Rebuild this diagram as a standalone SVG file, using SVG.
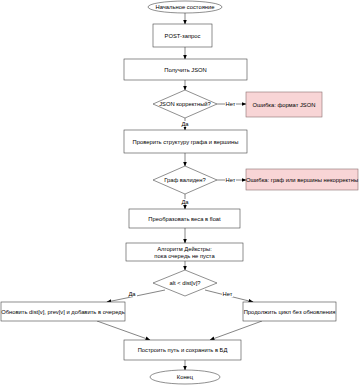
<svg xmlns="http://www.w3.org/2000/svg" width="359" height="385" viewBox="0 0 359 385">
<style>
.n{fill:#fff;stroke:#444;stroke-width:0.6}
.e{fill:#f8d5d6;stroke:#8a7070;stroke-width:0.6}
.c{fill:none;stroke:#333;stroke-width:0.6;marker-end:url(#a)}
text{font-family:"Liberation Sans",Arial,sans-serif;font-size:5.8px;fill:#000;text-anchor:middle;dominant-baseline:central}
.lb{fill:#fff}
</style>
<defs>
<marker id="a" viewBox="0 0 10 10" refX="9" refY="5" markerWidth="5" markerHeight="5" orient="auto" markerUnits="userSpaceOnUse">
<path d="M0,1 L10,5 L0,9 z" fill="#000"/>
</marker>
</defs>
<rect width="359" height="385" fill="#fff"/>
<g id="connectors">
<line class="c" x1="185" y1="13" x2="185" y2="24"/>
<line class="c" x1="185" y1="47" x2="185" y2="59"/>
<line class="c" x1="185" y1="80" x2="185" y2="90"/>
<line class="c" x1="217" y1="104" x2="246" y2="104"/>
<line class="c" x1="185" y1="118" x2="185" y2="130"/>
<line class="c" x1="185" y1="153" x2="185" y2="166"/>
<line class="c" x1="217" y1="180" x2="246" y2="180"/>
<line class="c" x1="185" y1="194" x2="185" y2="209"/>
<line class="c" x1="185" y1="228" x2="185" y2="243"/>
<line class="c" x1="185" y1="261" x2="185" y2="270"/>
<line class="c" x1="165" y1="290" x2="107" y2="302"/>
<line class="c" x1="205" y1="290" x2="253" y2="302"/>
<line class="c" x1="97" y1="321" x2="150" y2="340"/>
<line class="c" x1="262" y1="321" x2="210" y2="340"/>
<line class="c" x1="185" y1="360" x2="185" y2="370"/>
<rect class="lb" x="225" y="101" width="11" height="6"/>
<text x="230.5" y="104">Нет</text>
<rect class="lb" x="180" y="121" width="10" height="6"/>
<text x="185" y="124">Да</text>
<rect class="lb" x="225" y="177" width="11" height="6"/>
<text x="230.5" y="180">Нет</text>
<rect class="lb" x="180" y="199" width="10" height="6"/>
<text x="185" y="202">Да</text>
<rect class="lb" x="127" y="291" width="10" height="6"/>
<text x="132" y="294">Да</text>
<rect class="lb" x="222" y="291" width="11" height="6"/>
<text x="227.5" y="294">Нет</text>
</g>
<g id="start">
<ellipse class="n" cx="185" cy="7" rx="37" ry="6"/>
<text x="185" y="7">Начальное состояние</text>
</g>
<g id="post">
<rect class="n" x="153" y="24" width="59" height="23"/>
<text x="182.5" y="35.5">POST-запрос</text>
</g>
<g id="getjson">
<rect class="n" x="124" y="59" width="123" height="21"/>
<text x="185.5" y="69.5">Получить JSON</text>
</g>
<g id="jsonok">
<polygon class="n" points="185,90 217,104 185,118 153,104"/>
<text x="185" y="104">JSON корректный?</text>
</g>
<g id="err1">
<rect class="e" x="246" y="92" width="76" height="25"/>
<text x="284" y="104.5">Ошибка: формат JSON</text>
</g>
<g id="check">
<rect class="n" x="124" y="130" width="123" height="23"/>
<text x="185.5" y="141.5">Проверить структуру графа и вершины</text>
</g>
<g id="valid">
<polygon class="n" points="185,166 217,180 185,194 153,180"/>
<text x="185" y="180">Граф валиден?</text>
</g>
<g id="err2">
<rect class="e" x="246" y="169" width="112" height="21"/>
<text x="302" y="179.5">Ошибка: граф или вершины некорректны</text>
</g>
<g id="convert">
<rect class="n" x="129" y="209" width="111" height="19"/>
<text x="184.5" y="218.5">Преобразовать веса в float</text>
</g>
<g id="dijkstra">
<rect class="n" x="126" y="243" width="117" height="18"/>
<text x="184.5" y="248.5">Алгоритм Дейкстры:</text>
<text x="184.5" y="255.5">пока очередь не пуста</text>
</g>
<g id="cmp">
<polygon class="n" points="185,270 217,283 185,296 153,283"/>
<text x="185" y="283">alt &lt; dist[v]?</text>
</g>
<g id="update">
<rect class="n" x="1" y="302" width="124" height="19"/>
<text x="63" y="311.5">Обновить dist[v], prev[v] и добавить в очередь</text>
</g>
<g id="continue">
<rect class="n" x="243" y="302" width="93" height="19"/>
<text x="289.5" y="311.5">Продолжить цикл без обновления</text>
</g>
<g id="build">
<rect class="n" x="124" y="340" width="117" height="20"/>
<text x="182.5" y="350">Построить путь и сохранить в БД</text>
</g>
<g id="end">
<ellipse class="n" cx="185" cy="377" rx="35" ry="7"/>
<text x="185" y="377">Конец</text>
</g>
</svg>
